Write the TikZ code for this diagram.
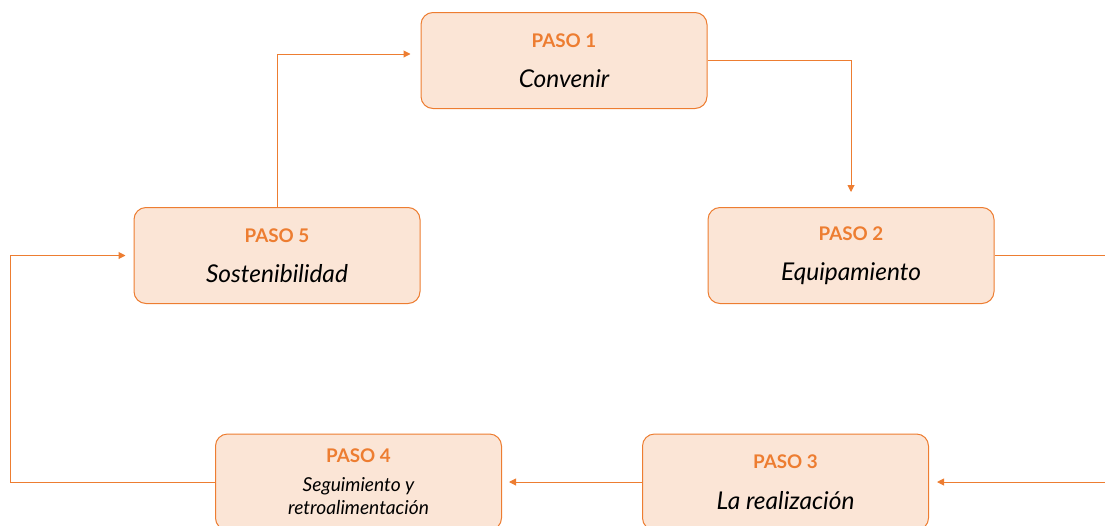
\documentclass[tikz,border=0pt]{standalone}
\usepackage{fontspec}
\setmainfont{Lato}
\usepackage{xcolor}
\usetikzlibrary{arrows.meta, calc}
\definecolor{pasoorange}{HTML}{ED7D31}
\definecolor{pasofill}{HTML}{FBE5D6}
\tikzset{
    pasobox/.style={draw=pasoorange, fill=pasofill, line width=1pt, rounded corners=12pt, minimum width=286pt, minimum height=96pt, inner sep=0pt, align=center, font=\fontsize{24.5}{29}\selectfont\itshape},
    smalltext/.style={font=\fontsize{19.2}{23}\selectfont\itshape},
    link/.style={draw=pasoorange, line width=1pt},
    flow/.style={link, -{Triangle[length=7pt, width=7pt]}}
}
\newcommand{\pasotitle}[1]{{\fontsize{18.8}{22}\selectfont\bfseries\upshape\color{pasoorange}#1}}

\begin{document}
\begin{tikzpicture}[x=1pt, y=-1pt]
    \useasboundingbox (0,0) rectangle (1105,525);
    \clip (0,0) rectangle (1105,525);
    % Steps
    \node[pasobox] (paso1) at (564,60.5) {\pasotitle{PASO 1}\\[11.5pt]Convenir};
    \node[pasobox] (paso2) at (851,255.5) {\pasotitle{PASO 2}\\[11.5pt]Equipamiento};
    \node[pasobox] (paso3) at (785.5,482) {\pasotitle{PASO 3}\\[11.5pt]La realización};
    \node[pasobox, smalltext] (paso4) at (358.5,482) {\pasotitle{PASO 4}\\[6pt]Seguimiento y\\retroalimentación};
    \node[pasobox] (paso5) at (277,255.5) {\pasotitle{PASO 5}\\[11.5pt]Sostenibilidad};
    % Turning points
    \coordinate (rightturn) at (1120,255.5);
    \coordinate (leftturn) at (10,482);
    % Connectors
    \draw[flow, shorten >=15pt] (paso1.east) -| (paso2.north);
    \draw[link] (paso2.east) -- (rightturn);
    \draw[flow, shorten >=8pt] (rightturn |- paso3.east) -- (paso3.east);
    \draw[flow, shorten >=7pt] (paso3.west) -- (paso4.east);
    \draw[flow, shorten >=8pt] (paso4.west) -- (leftturn) |- (paso5.west);
    \draw[flow, shorten >=10pt] (paso5.north) |- ($(paso1.west)+(0,-6.5)$);
\end{tikzpicture}
\end{document}
